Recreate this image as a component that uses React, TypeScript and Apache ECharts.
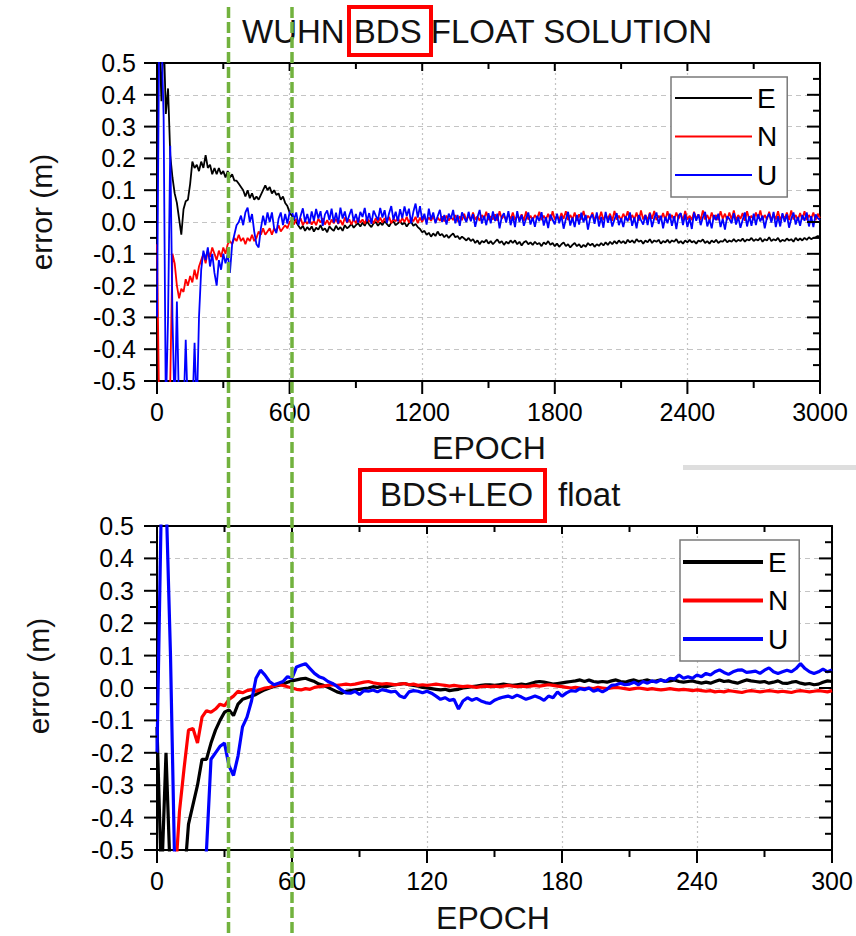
import React, { useEffect, useRef } from "react";
import * as echarts from "echarts";

const FONT = '"Liberation Sans", Arial, Helvetica, sans-serif';

// ---------- texts ----------
const TOP_TITLE = "WUHN BDS FLOAT SOLUTION";
const BOT_TITLE_BOXED = "BDS+LEO";
const BOT_TITLE_TAIL = "float";
const X_NAME = "EPOCH";
const Y_NAME = "error (m)";
const LEGEND_NAMES = ["E", "N", "U"];
const SERIES_COLORS = ["#000000", "#ff0000", "#0000ff"];

// ---------- axes ----------
const Y_MIN = -0.5;
const Y_MAX = 0.5;
const Y_STEP = 0.1;
const TOP_X_MAX = 3000;
const TOP_X_STEP = 600;
const BOT_X_MAX = 300;
const BOT_X_STEP = 60;

// ---------- sampling epochs ----------
const TOP_EPOCHS: number[] = [];
for (let e = 0; e <= 3000; e += 10) TOP_EPOCHS.push(e);
const BOT_EPOCHS: number[] = [];
for (let e = 0; e <= 300; e += 2) BOT_EPOCHS.push(e);

// ---------- top panel (BDS only), metres, one value every 10 epochs ----------
const E_TOP = [
  // 0 - 90
  0.6, 0.6, 0.38, 0.6, 0.34, 0.42, 0.21, 0.14, 0.09, 0.06,
  // 100 - 190
  0.01, -0.04, 0.04, 0.065, 0.07, 0.12, 0.19, 0.17, 0.18, 0.16,
  // 200 - 290
  0.19, 0.17, 0.21, 0.17, 0.18, 0.15, 0.17, 0.15, 0.17, 0.15,
  // 300 - 390
  0.16, 0.14, 0.16, 0.14, 0.15, 0.13, 0.13, 0.12, 0.11, 0.1,
  // 400 - 490
  0.08, 0.1, 0.075, 0.09, 0.07, 0.08, 0.07, 0.085, 0.1, 0.115,
  // 500 - 590
  0.1, 0.11, 0.09, 0.1, 0.085, 0.09, 0.07, 0.08, 0.06, 0.05,
  // 600
  0.03,
  // 610 - 700
  0.02, 0.008, 0.0, -0.012, -0.022, -0.012, -0.028, -0.016, -0.025, -0.014,
  // 710 - 800
  -0.03, -0.018, -0.024, -0.01, -0.026, -0.02, -0.032, -0.014, -0.022, -0.028,
  // 810 - 900
  -0.012, -0.024, -0.016, -0.028, -0.01, -0.02, -0.014, -0.006, -0.018, -0.01,
  // 910 - 1000
  -0.004, -0.014, -0.002, -0.012, 0.002, -0.008, -0.016, -0.004, 0.0, -0.012,
  // 1010 - 1100
  -0.002, -0.01, 0.003, -0.006, -0.014, -0.002, 0.002, -0.01, -0.004, 0.002,
  // 1110 - 1200
  -0.008, -0.002, -0.014, -0.004, 0.0, -0.012, -0.006, -0.016, -0.022, -0.032,
  // 1210 - 1300
  -0.028, -0.04, -0.034, -0.046, -0.036, -0.044, -0.03, -0.042, -0.038, -0.048,
  // 1310 - 1400
  -0.04, -0.05, -0.042, -0.036, -0.048, -0.044, -0.054, -0.046, -0.052, -0.058,
  // 1410 - 1500
  -0.05, -0.06, -0.054, -0.066, -0.058, -0.07, -0.06, -0.064, -0.056, -0.068,
  // 1510 - 1600
  -0.06, -0.07, -0.062, -0.055, -0.066, -0.06, -0.072, -0.062, -0.068, -0.058,
  // 1610 - 1700
  -0.066, -0.058, -0.07, -0.062, -0.074, -0.064, -0.06, -0.07, -0.064, -0.072,
  // 1710 - 1800
  -0.062, -0.07, -0.066, -0.076, -0.064, -0.07, -0.06, -0.072, -0.066, -0.076,
  // 1810 - 1900
  -0.068, -0.078, -0.07, -0.064, -0.076, -0.07, -0.08, -0.072, -0.066, -0.076,
  // 1910 - 2000
  -0.07, -0.08, -0.072, -0.078, -0.066, -0.074, -0.068, -0.078, -0.07, -0.075,
  // 2010 - 2100
  -0.066, -0.074, -0.064, -0.072, -0.062, -0.07, -0.06, -0.068, -0.058, -0.066,
  // 2110 - 2200
  -0.06, -0.068, -0.056, -0.064, -0.058, -0.066, -0.054, -0.062, -0.058, -0.068,
  // 2210 - 2300
  -0.058, -0.064, -0.054, -0.066, -0.058, -0.062, -0.056, -0.068, -0.06, -0.064,
  // 2310 - 2400
  -0.056, -0.066, -0.058, -0.062, -0.054, -0.066, -0.06, -0.068, -0.058, -0.064,
  // 2410 - 2500
  -0.056, -0.064, -0.06, -0.068, -0.058, -0.062, -0.055, -0.066, -0.06, -0.068,
  // 2510 - 2600
  -0.058, -0.064, -0.056, -0.066, -0.06, -0.062, -0.054, -0.064, -0.058, -0.062,
  // 2610 - 2700
  -0.054, -0.062, -0.056, -0.06, -0.052, -0.062, -0.055, -0.058, -0.05, -0.06,
  // 2710 - 2800
  -0.054, -0.058, -0.05, -0.062, -0.054, -0.058, -0.048, -0.06, -0.054, -0.058,
  // 2810 - 2900
  -0.05, -0.062, -0.056, -0.06, -0.052, -0.058, -0.054, -0.062, -0.05, -0.058,
  // 2910 - 3000
  -0.052, -0.058, -0.05, -0.056, -0.048, -0.054, -0.05, -0.048, -0.044, -0.046,
];

const N_TOP = [
  // 0 - 90
  -0.07, -0.6, -0.6, -0.6, -0.6, -0.6, -0.5, -0.1, -0.13, -0.2,
  // 100 - 190
  -0.24, -0.21, -0.22, -0.18, -0.2, -0.17, -0.19, -0.15, -0.18, -0.14,
  // 200 - 290
  -0.12, -0.1, -0.13, -0.09, -0.11, -0.08, -0.1, -0.12, -0.09, -0.11,
  // 300 - 390
  -0.08, -0.1, -0.07, -0.06, -0.07, -0.05, -0.06, -0.04, -0.06, -0.05,
  // 400 - 490
  -0.07, -0.05, -0.06, -0.04, -0.06, -0.05, -0.03, -0.04, -0.02, -0.04,
  // 500 - 590
  -0.03, -0.02, -0.04, -0.02, -0.03, -0.01, -0.03, -0.02, -0.01, -0.02,
  // 600
  0.0,
  // 610 - 700
  0.006, -0.008, 0.01, -0.004, 0.012, -0.01, 0.004, -0.006, 0.008, -0.008,
  // 710 - 800
  0.004, -0.01, 0.01, -0.002, 0.012, -0.008, 0.006, -0.01, 0.008, -0.004,
  // 810 - 900
  0.01, -0.006, 0.006, -0.01, 0.014, -0.002, 0.008, -0.008, 0.01, -0.004,
  // 910 - 1000
  0.012, -0.002, 0.008, -0.006, 0.014, 0.0, 0.01, -0.004, 0.012, -0.002,
  // 1010 - 1100
  0.014, -0.002, 0.012, 0.0, 0.016, -0.004, 0.01, 0.002, 0.014, -0.002,
  // 1110 - 1200
  0.012, 0.0, 0.016, -0.002, 0.012, 0.002, 0.016, -0.004, 0.014, 0.0,
  // 1210 - 1300
  0.016, 0.002, 0.014, 0.004, 0.018, 0.0, 0.014, 0.004, 0.018, 0.002,
  // 1310 - 1400
  0.02, 0.004, 0.016, 0.006, 0.022, 0.002, 0.018, 0.006, 0.026, 0.004,
  // 1410 - 1500
  0.02, 0.006, 0.03, 0.008, 0.018, 0.004, 0.022, 0.01, 0.032, 0.006,
  // 1510 - 1600
  0.018, 0.008, 0.024, 0.004, 0.034, 0.01, 0.02, 0.006, 0.026, 0.008,
  // 1610 - 1700
  0.03, 0.006, 0.02, 0.01, 0.024, 0.004, 0.033, 0.008, 0.02, 0.006,
  // 1710 - 1800
  0.022, 0.01, 0.032, 0.006, 0.02, 0.008, 0.026, 0.004, 0.034, 0.008,
  // 1810 - 1900
  0.02, 0.006, 0.028, 0.01, 0.034, 0.006, 0.022, 0.008, 0.03, 0.004,
  // 1910 - 2000
  0.024, 0.008, 0.035, 0.006, 0.02, 0.01, 0.03, 0.006, 0.022, 0.008,
  // 2010 - 2100
  0.032, 0.006, 0.022, 0.01, 0.026, 0.004, 0.035, 0.008, 0.02, 0.006,
  // 2110 - 2200
  0.026, 0.01, 0.034, 0.006, 0.022, 0.008, 0.03, 0.004, 0.036, 0.008,
  // 2210 - 2300
  0.022, 0.006, 0.03, 0.01, 0.035, 0.006, 0.02, 0.008, 0.028, 0.006,
  // 2310 - 2400
  0.034, 0.008, 0.022, 0.006, 0.03, 0.01, 0.026, 0.004, 0.035, 0.008,
  // 2410 - 2500
  0.02, 0.006, 0.032, 0.01, 0.024, 0.006, 0.036, 0.008, 0.022, 0.004,
  // 2510 - 2600
  0.03, 0.008, 0.022, 0.006, 0.034, 0.01, 0.026, 0.006, 0.03, 0.008,
  // 2610 - 2700
  0.036, 0.006, 0.022, 0.01, 0.028, 0.004, 0.034, 0.008, 0.02, 0.006,
  // 2710 - 2800
  0.03, 0.01, 0.036, 0.006, 0.022, 0.008, 0.032, 0.004, 0.026, 0.008,
  // 2810 - 2900
  0.034, 0.006, 0.024, 0.01, 0.03, 0.006, 0.036, 0.008, 0.022, 0.006,
  // 2910 - 3000
  0.028, 0.008, 0.034, 0.006, 0.022, 0.01, 0.03, 0.006, 0.026, 0.012,
];

const U_TOP = [
  // 0 - 90
  -0.3, 0.6, 0.6, 0.33, -0.6, -0.3, 0.24, -0.3, -0.6, -0.25,
  // 100 - 190
  -0.6, -0.6, -0.6, -0.37, -0.6, -0.6, -0.6, -0.38, -0.6, -0.3,
  // 200 - 290
  -0.15, -0.09, -0.12, -0.08, -0.14, -0.1, -0.16, -0.2, -0.12, -0.15,
  // 300 - 390
  -0.1, -0.13, -0.1, -0.16, -0.07, -0.04, -0.01, 0.0, 0.02, -0.01,
  // 400 - 490
  0.03, 0.045, 0.0, 0.025, -0.03, -0.07, -0.08, -0.02, 0.02, -0.01,
  // 500 - 590
  0.03, 0.0, 0.03, -0.02, -0.035, 0.01, 0.03, -0.01, 0.025, -0.005,
  // 600
  0.03,
  // 610 - 700
  0.037, 0.007, 0.03, -0.01, 0.02, 0.043, 0.0, 0.025, -0.005, 0.033,
  // 710 - 800
  0.004, 0.041, 0.011, 0.034, -0.012, 0.024, 0.036, 0.006, 0.042, -0.002,
  // 810 - 900
  0.029, -0.005, 0.045, 0.011, 0.033, -0.001, 0.021, 0.041, 0.003, 0.025,
  // 910 - 1000
  -0.002, 0.032, 0.016, 0.044, 0.002, 0.028, -0.006, 0.036, 0.02, 0.006,
  // 1010 - 1100
  0.044, 0.014, 0.037, -0.003, 0.027, 0.05, 0.007, 0.032, 0.002, 0.04,
  // 1110 - 1200
  0.012, 0.049, 0.019, 0.042, -0.004, 0.032, 0.058, 0.014, 0.05, 0.006,
  // 1210 - 1300
  0.026, -0.008, 0.042, 0.008, 0.03, -0.004, 0.018, 0.038, 0.0, 0.022,
  // 1310 - 1400
  -0.008, 0.026, 0.01, 0.038, -0.004, 0.022, -0.012, 0.03, 0.014, 0.0,
  // 1410 - 1500
  0.032, 0.002, 0.025, -0.015, 0.015, 0.038, -0.005, 0.02, -0.01, 0.028,
  // 1510 - 1600
  -0.004, 0.033, 0.003, 0.026, -0.02, 0.016, 0.028, -0.002, 0.034, -0.01,
  // 1610 - 1700
  0.018, -0.016, 0.034, 0.0, 0.022, -0.012, 0.01, 0.03, -0.008, 0.014,
  // 1710 - 1800
  -0.015, 0.019, 0.003, 0.031, -0.011, 0.015, -0.019, 0.023, 0.007, -0.007,
  // 1810 - 1900
  0.026, -0.004, 0.019, -0.021, 0.009, 0.032, -0.011, 0.014, -0.016, 0.022,
  // 1910 - 2000
  -0.008, 0.029, -0.001, 0.022, -0.024, 0.012, 0.024, -0.006, 0.03, -0.014,
  // 2010 - 2100
  0.016, -0.018, 0.032, -0.002, 0.02, -0.014, 0.008, 0.028, -0.01, 0.012,
  // 2110 - 2200
  -0.016, 0.018, 0.002, 0.03, -0.012, 0.014, -0.02, 0.022, 0.006, -0.008,
  // 2210 - 2300
  0.022, -0.01, 0.027, -0.016, 0.012, 0.03, -0.006, 0.02, -0.02, 0.016,
  // 2310 - 2400
  -0.004, 0.026, -0.012, 0.018, -0.022, 0.02, 0.028, -0.01, 0.024, -0.016,
  // 2410 - 2500
  0.012, -0.022, 0.03, 0.004, 0.024, -0.01, 0.014, 0.032, -0.014, 0.008,
  // 2510 - 2600
  -0.02, 0.022, 0.006, 0.026, -0.016, 0.01, -0.024, 0.018, 0.01, -0.004,
  // 2610 - 2700
  0.028, -0.008, 0.016, -0.018, 0.006, 0.03, -0.014, 0.018, -0.012, 0.026,
  // 2710 - 2800
  -0.01, 0.024, 0.002, 0.02, -0.02, 0.014, 0.026, -0.002, 0.032, -0.016,
  // 2810 - 2900
  0.018, -0.014, 0.028, 0.0, 0.024, -0.018, 0.01, 0.03, -0.008, 0.016,
  // 2910 - 3000
  -0.012, 0.022, 0.004, 0.03, -0.014, 0.018, -0.016, 0.024, 0.012, 0.006,
];

// ---------- bottom panel (BDS+LEO), metres, one value every 2 epochs ----------
const E_BOT = [
  -0.12, -0.6, -0.2, -0.6, -0.6, -0.6, -0.6, -0.42, -0.36, -0.3,
  -0.22, -0.22, -0.17, -0.13, -0.1, -0.075, -0.068, -0.085, -0.05, -0.035,
  -0.03, -0.025, -0.02, -0.012, -0.005, 0.0, 0.005, 0.008, 0.012, 0.018,
  0.022, 0.025, 0.028, 0.03, 0.025, 0.02, 0.012, 0.008, 0.002, -0.005,
  -0.012, -0.016, -0.01, -0.008, -0.006, -0.004, -0.002, 0.0, 0.004, 0.002,
  0.006, 0.004, 0.008, 0.01, 0.012, 0.014, 0.01, 0.008, 0.006, 0.002,
  0.0, -0.002, -0.004, -0.006, -0.004, -0.008, -0.006, -0.004, 0.0, 0.002,
  0.004, 0.006, 0.008, 0.01, 0.01, 0.008, 0.01, 0.012, 0.01, 0.008,
  0.01, 0.012, 0.01, 0.014, 0.018, 0.02, 0.018, 0.015, 0.012, 0.014,
  0.016, 0.018, 0.02, 0.022, 0.025, 0.02, 0.025, 0.02, 0.018, 0.02,
  0.018, 0.022, 0.025, 0.02, 0.018, 0.022, 0.025, 0.02, 0.022, 0.025,
  0.02, 0.022, 0.025, 0.02, 0.022, 0.025, 0.02, 0.018, 0.02, 0.022,
  0.018, 0.015, 0.018, 0.015, 0.02, 0.025, 0.02, 0.022, 0.018, 0.015,
  0.02, 0.025, 0.022, 0.02, 0.018, 0.02, 0.015, 0.018, 0.022, 0.015,
  0.014, 0.018, 0.02, 0.015, 0.012, 0.014, 0.01, 0.012, 0.018, 0.022,
  0.02,
];

const N_BOT = [
  -0.6, -0.6, -0.6, -0.6, -0.6, -0.38, -0.25, -0.13, -0.125, -0.17,
  -0.09, -0.07, -0.075, -0.065, -0.05, -0.055, -0.035, -0.025, -0.01, -0.015,
  -0.008, -0.005, -0.01, -0.005, 0.0, 0.002, 0.006, 0.01, 0.008, 0.004,
  0.0, -0.004, -0.006, -0.002, -0.004, 0.002, 0.004, 0.006, 0.008, 0.01,
  0.008, 0.01, 0.012, 0.01, 0.012, 0.015, 0.018, 0.02, 0.016, 0.014,
  0.012, 0.014, 0.012, 0.01, 0.012, 0.014, 0.01, 0.012, 0.008, 0.01,
  0.008, 0.01, 0.012, 0.01, 0.008, 0.006, 0.008, 0.006, 0.004, 0.006,
  0.004, 0.002, 0.004, 0.006, 0.004, 0.006, 0.004, 0.006, 0.008, 0.006,
  0.004, 0.006, 0.004, 0.006, 0.008, 0.006, 0.008, 0.01, 0.008, 0.006,
  0.004, 0.002, 0.0, 0.002, 0.0, -0.002, 0.0, -0.002, 0.002, 0.0,
  -0.002, 0.0, 0.002, 0.0, -0.002, -0.004, -0.002, 0.0, -0.002, -0.004,
  -0.002, -0.004, -0.006, -0.004, -0.002, -0.004, -0.006, -0.004, -0.006, -0.008,
  -0.006, -0.008, -0.01, -0.008, -0.012, -0.01, -0.012, -0.008, -0.01, -0.012,
  -0.014, -0.01, -0.008, -0.01, -0.012, -0.01, -0.008, -0.01, -0.012, -0.01,
  -0.012, -0.014, -0.01, -0.008, -0.01, -0.012, -0.01, -0.008, -0.01, -0.012,
  -0.008,
];

const U_BOT = [
  -0.2, 0.6, 0.6, 0.1, -0.6, -0.6, -0.6, -0.6, -0.6, -0.6,
  -0.6, -0.5, -0.22, -0.2, -0.18, -0.17, -0.24, -0.27, -0.21, -0.12,
  -0.09, -0.04, 0.03, 0.055, 0.04, 0.02, 0.01, 0.015, 0.02, 0.035,
  0.03, 0.065, 0.07, 0.075, 0.06, 0.045, 0.035, 0.03, 0.02, 0.014,
  0.005, -0.006, -0.015, -0.016, -0.01, -0.02, -0.008, -0.01, -0.006, -0.012,
  -0.005, -0.008, -0.012, -0.01, -0.025, -0.03, -0.012, -0.008, -0.01, -0.015,
  -0.01, -0.016, -0.025, -0.035, -0.03, -0.038, -0.035, -0.065, -0.04, -0.03,
  -0.038, -0.032, -0.04, -0.045, -0.048, -0.038, -0.032, -0.028, -0.025, -0.03,
  -0.022, -0.028, -0.035, -0.03, -0.025, -0.03, -0.038, -0.025, -0.03, -0.012,
  -0.025, -0.015, -0.008, -0.01, -0.002, -0.005, 0.0, -0.01, -0.005, -0.012,
  -0.004, 0.008, 0.01, 0.015, 0.01, 0.012, 0.018, 0.01, 0.02, 0.015,
  0.022, 0.018, 0.025, 0.02, 0.03, 0.028, 0.04, 0.03, 0.035, 0.03,
  0.04, 0.035, 0.045, 0.04, 0.05, 0.056, 0.048, 0.042, 0.05, 0.055,
  0.056, 0.048, 0.05, 0.052, 0.045, 0.055, 0.062, 0.05, 0.045, 0.05,
  0.055, 0.05, 0.06, 0.075, 0.06, 0.05, 0.045, 0.05, 0.058, 0.05,
  0.056,
];

const REF_LINE_COLOR = "#72b23e";

const TOP_RECT = { left: 157, top: 63, width: 663, height: 318 };
const BOT_RECT = { left: 157, top: 526, width: 675, height: 324 };

function pairs(xs: number[], ys: number[]) {
  const n = Math.min(xs.length, ys.length);
  const out: number[][] = [];
  for (let i = 0; i < n; i++) out.push([xs[i], ys[i]]);
  return out;
}

const blk = () => ({ color: "#000000", width: 2 });

function xAxesFor(grid: number, max: number, interval: number) {
  return [
    {
      type: "value",
      gridIndex: grid,
      min: 0,
      max,
      interval,
      position: "bottom",
      axisLine: { show: true, onZero: false, lineStyle: blk() },
      axisTick: { show: false },
      axisLabel: {
        show: true,
        margin: 18,
        color: "#000",
        fontSize: 25,
        fontFamily: FONT,
        formatter: (v: number) => String(Math.round(v)),
      },
      splitLine: { show: true, lineStyle: { color: "#c4c4c4", width: 1.2, type: [2, 3] } },
    },
    {
      type: "value",
      gridIndex: grid,
      min: 0,
      max,
      interval,
      position: "top",
      axisLine: { show: true, onZero: false, lineStyle: blk() },
      axisTick: { show: false },
      axisLabel: { show: false },
      splitLine: { show: false },
    },
  ];
}

function yAxesFor(grid: number, labelMargin: number) {
  return [
    {
      type: "value",
      gridIndex: grid,
      min: Y_MIN,
      max: Y_MAX,
      interval: Y_STEP,
      position: "left",
      axisLine: { show: true, onZero: false, lineStyle: blk() },
      axisTick: { show: false },
      axisLabel: {
        show: true,
        margin: labelMargin,
        color: "#000",
        fontSize: 25,
        fontFamily: FONT,
        formatter: (v: number) => (Math.abs(v) < 1e-9 ? 0 : v).toFixed(1),
      },
      splitLine: { show: true, lineStyle: { color: "#c4c4c4", width: 1.2, type: [5, 4] } },
    },
    {
      type: "value",
      gridIndex: grid,
      min: Y_MIN,
      max: Y_MAX,
      interval: Y_STEP,
      position: "right",
      axisLine: { show: true, onZero: false, lineStyle: blk() },
      axisTick: { show: false },
      axisLabel: { show: false },
      splitLine: { show: false },
    },
  ];
}

function lineSeries(name: string, color: string, data: number[][], axisIndex: number, width: number) {
  return {
    type: "line",
    name,
    xAxisIndex: axisIndex,
    yAxisIndex: axisIndex,
    data,
    showSymbol: false,
    symbol: "none",
    clip: true,
    silent: true,
    color,
    itemStyle: { color },
    lineStyle: { color, width },
  };
}

function legendFor(left: number, top: number, itemWidth: number, itemHeight: number, padding: number[]) {
  return {
    orient: "vertical",
    left,
    top,
    data: LEGEND_NAMES,
    icon: "rect",
    itemWidth,
    itemHeight,
    itemGap: 8.5,
    padding,
    borderColor: "#7a7a7a",
    borderWidth: 1.5,
    backgroundColor: "#ffffff",
    selectedMode: false,
    textStyle: { fontSize: 28, lineHeight: 30, fontFamily: FONT, color: "#000" },
  };
}

// Axis tick marks for a panel frame (major at every labelled step, minor halfway):
// outward on the bottom/left edges, inward on the top/right edges.
function tickGraphics(rect: { left: number; top: number; width: number; height: number }, xMax: number) {
  const els: any[] = [];
  const style = { stroke: "#000", lineWidth: 2 };
  const bottom = rect.top + rect.height;
  const right = rect.left + rect.width;
  for (let i = 0; i <= 10; i++) {
    const x = rect.left + ((xMax * i) / 10 / xMax) * rect.width;
    const major = i % 2 === 0;
    els.push({ type: "line", z: 90, silent: true, shape: { x1: x, y1: bottom, x2: x, y2: bottom + (major ? 13 : 7) }, style });
    els.push({ type: "line", z: 90, silent: true, shape: { x1: x, y1: rect.top, x2: x, y2: rect.top + (major ? 8 : 6) }, style });
  }
  for (let i = 0; i <= 20; i++) {
    const v = Y_MIN + (Y_STEP / 2) * i;
    const y = rect.top + ((Y_MAX - v) / (Y_MAX - Y_MIN)) * rect.height;
    const len = i % 2 === 0 ? 13 : 7;
    els.push({ type: "line", z: 90, silent: true, shape: { x1: rect.left - len, y1: y, x2: rect.left, y2: y }, style });
    els.push({ type: "line", z: 90, silent: true, shape: { x1: right - len, y1: y, x2: right, y2: y }, style });
  }
  return els;
}

function staticGraphics() {
  const textStyle = (text: string, size: number, align: string) => ({
    text,
    fontSize: size,
    fontFamily: FONT,
    fill: "#111",
    align,
    verticalAlign: "middle",
  });
  return [
    { type: "text", x: 242, y: 31.5, z: 50, style: textStyle(TOP_TITLE, 33, "left") },
    { type: "text", x: 380, y: 494, z: 50, style: textStyle(BOT_TITLE_BOXED, 33, "left") },
    { type: "text", x: 558, y: 494, z: 50, style: textStyle(BOT_TITLE_TAIL, 33, "left") },
    { type: "text", x: 489, y: 448, z: 50, style: textStyle(X_NAME, 32, "center") },
    { type: "text", x: 493, y: 918, z: 50, style: textStyle(X_NAME, 32, "center") },
    { type: "text", x: 41.5, y: 212, rotation: Math.PI / 2, z: 50, style: textStyle(Y_NAME, 30, "center") },
    { type: "text", x: 38, y: 676, rotation: Math.PI / 2, z: 50, style: textStyle(Y_NAME, 30, "center") },
    {
      type: "rect",
      z: 60,
      shape: { x: 349, y: 7, width: 82, height: 48 },
      style: { fill: "none", stroke: "#ff0000", lineWidth: 4 },
    },
    {
      type: "rect",
      z: 60,
      shape: { x: 360, y: 470, width: 185, height: 51 },
      style: { fill: "none", stroke: "#ff0000", lineWidth: 4 },
    },
    {
      type: "rect",
      z: 5,
      shape: { x: 683, y: 465, width: 173, height: 5 },
      style: { fill: "#dedede" },
    },
    {
      type: "line",
      z: 100,
      shape: { x1: 228.5, y1: 7, x2: 228.5, y2: 936 },
      style: { stroke: REF_LINE_COLOR, lineWidth: 3.5, lineDash: [11, 4] },
    },
    {
      type: "line",
      z: 100,
      shape: { x1: 292, y1: 7, x2: 292, y2: 936 },
      style: { stroke: REF_LINE_COLOR, lineWidth: 3.5, lineDash: [11, 4] },
    },
  ];
}

function buildOption() {
  const topSets = [E_TOP, N_TOP, U_TOP];
  const botSets = [E_BOT, N_BOT, U_BOT];
  const series: any[] = [];
  LEGEND_NAMES.forEach((n, i) => {
    series.push(lineSeries(n, SERIES_COLORS[i], pairs(TOP_EPOCHS, topSets[i]), 0, 1.8));
  });
  LEGEND_NAMES.forEach((n, i) => {
    series.push(lineSeries(n, SERIES_COLORS[i], pairs(BOT_EPOCHS, botSets[i]), 2, 3.2));
  });

  return {
    animation: false,
    backgroundColor: "#ffffff",
    grid: [{ ...TOP_RECT }, { ...BOT_RECT }],
    xAxis: [...xAxesFor(0, TOP_X_MAX, TOP_X_STEP), ...xAxesFor(1, BOT_X_MAX, BOT_X_STEP)],
    yAxis: [...yAxesFor(0, 21), ...yAxesFor(1, 23)],
    legend: [
      legendFor(671, 77, 77, 2, [6, 10, 7, 4]),
      legendFor(680, 540, 80, 4, [7, 11, 7, 3]),
    ],
    series,
    graphic: {
      elements: [
        ...staticGraphics(),
        ...tickGraphics(TOP_RECT, TOP_X_MAX),
        ...tickGraphics(BOT_RECT, BOT_X_MAX),
      ],
    },
  };
}

export default function App() {
  const ref = useRef<HTMLDivElement | null>(null);
  useEffect(() => {
    document.body.style.margin = "0";
    if (!ref.current) return;
    const chart = echarts.init(ref.current, undefined, { renderer: "svg" });
    chart.setOption(buildOption() as any);
    return () => {
      chart.dispose();
    };
  }, []);
  return <div ref={ref} style={{ width: 856, height: 936, background: "#fff" }} />;
}
